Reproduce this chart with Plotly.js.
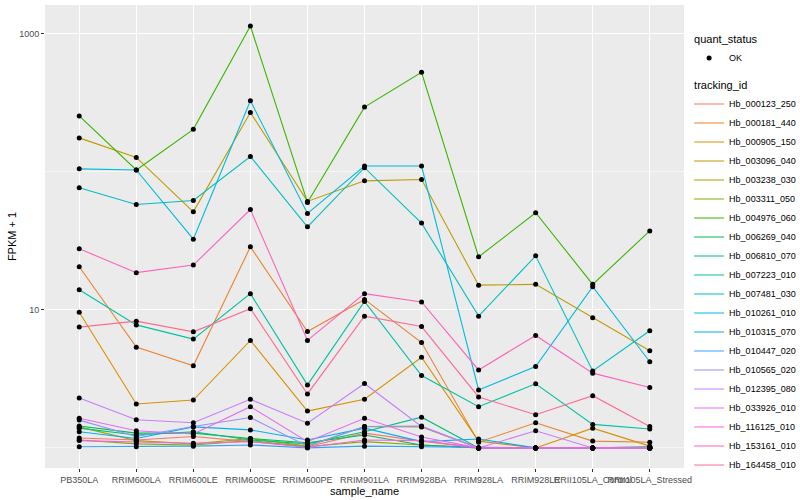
<!DOCTYPE html>
<html>
<head>
<meta charset="utf-8">
<script src="https://cdn.plot.ly/plotly-3.0.1.min.js"></script>
<style>html,body{margin:0;padding:0;background:#fff;}#chart{width:800px;height:500px;}</style>
</head>
<body>
<div id="chart"></div>
<script>
// ---- data (FPKM + 1) ----
var categories = ["PB350LA","RRIM600LA","RRIM600LE","RRIM600SE","RRIM600PE","RRIM901LA","RRIM928BA","RRIM928LA","RRIM928LE","RRII105LA_Control","RRII105LA_Stressed"];

var trackingIds = ["Hb_000123_250","Hb_000181_440","Hb_000905_150","Hb_003096_040","Hb_003238_030","Hb_003311_050","Hb_004976_060","Hb_006269_040","Hb_006810_070","Hb_007223_010","Hb_007481_030","Hb_010261_010","Hb_010315_070","Hb_010447_020","Hb_010565_020","Hb_012395_080","Hb_033926_010","Hb_116125_010","Hb_153161_010","Hb_164458_010"];

var Hb_000123_250 = [1.18,1.14,1.21,1.11,1.02,1.28,1.12,1.0,1.0,1.0,1.0];
var Hb_000181_440 = [20.5,5.37,3.93,28.6,6.96,11.9,5.8,1.1,1.52,1.12,1.1];
var Hb_000905_150 = [9.6,2.08,2.22,6.0,1.85,2.25,4.54,1.12,1.0,1.39,1.03];
var Hb_003096_040 = [176,127,51.3,269,61,86,88,15.1,15.3,8.75,5.05];
var Hb_003238_030 = [1.42,1.13,1.07,1.17,1.03,1.43,1.42,1.0,1.0,1.0,1.0];
var Hb_003311_050 = [1.14,1.07,1.05,1.13,1.02,1.11,1.05,1.0,1.0,1.0,1.0];
var Hb_004976_060 = [254,103,203,1137,60,294,525,24.2,50.5,15.3,37.3];
var Hb_006269_040 = [1.44,1.28,1.28,1.17,1.09,1.24,1.05,1.0,1.0,1.0,1.02];
var Hb_006810_070 = [1.39,1.24,1.31,1.14,1.07,1.31,1.67,1.0,1.0,1.0,1.0];
var Hb_007223_010 = [14.0,7.78,6.14,13.1,2.86,11.5,3.34,1.99,2.91,1.48,1.37];
var Hb_007481_030 = [76.6,58,62,129,39.9,107,42.5,9.0,24.6,3.61,7.05];
var Hb_010261_010 = [105,103,32.5,327,49.9,110,110,2.63,3.88,14.7,4.21];
var Hb_010315_070 = [1.31,1.17,1.42,1.35,1.14,1.39,1.11,1.16,1.0,1.0,1.0];
var Hb_010447_020 = [1.02,1.02,1.03,1.05,1.0,1.03,1.02,1.0,1.0,1.0,1.0];
var Hb_010565_020 = [1.59,1.21,1.43,1.66,1.03,1.43,1.44,1.0,1.0,1.0,1.0];
var Hb_012395_080 = [2.3,1.6,1.52,2.25,1.51,2.93,1.43,1.0,1.33,1.0,1.0];
var Hb_033926_010 = [1.64,1.33,1.26,1.99,1.11,1.64,1.2,1.0,1.0,1.0,1.0];
var Hb_116125_010 = [1.13,1.11,1.08,1.11,1.01,1.14,1.13,1.0,1.0,1.0,1.0];
var Hb_153161_010 = [27.7,18.6,21.1,53.3,6.0,13.1,11.4,3.67,6.52,3.48,2.74];
var Hb_164458_010 = [7.5,8.28,6.93,10.2,2.46,9.0,7.57,2.34,1.74,2.39,1.43];

var seriesValues = [Hb_000123_250,Hb_000181_440,Hb_000905_150,Hb_003096_040,Hb_003238_030,Hb_003311_050,Hb_004976_060,Hb_006269_040,Hb_006810_070,Hb_007223_010,Hb_007481_030,Hb_010261_010,Hb_010315_070,Hb_010447_020,Hb_010565_020,Hb_012395_080,Hb_033926_010,Hb_116125_010,Hb_153161_010,Hb_164458_010];

var colors = ["#F8766D","#EA8331","#D89000","#C09B00","#A3A500","#7CAE00","#39B600","#00BB4E","#00BF7D","#00C1A3","#00BFC4","#00BAE0","#00B0F6","#35A2FF","#9590FF","#C77CFF","#E76BF3","#FA62DB","#FF62BC","#FF6C91"];

var statusLabel = "OK";
var yTickVals = [10, 1000];
var yTickText = ["10", "1000"];
var yMinorVals = [1, 100];

// ---- traces ----
var traces = [];
var allX = [], allY = [];
for (var i = 0; i < trackingIds.length; i++) {
  traces.push({
    type: 'scatter', mode: 'lines',
    x: categories, y: seriesValues[i],
    name: trackingIds[i],
    line: {color: colors[i], width: 1.1},
    legendgroup: 'tracking_id',
    legendgrouptitle: {text: 'tracking_id', font: {size: 11, color: '#000'}},
    legendrank: 10 + i,
    hoverinfo: 'x+y+name'
  });
  for (var j = 0; j < categories.length; j++) {
    allX.push(categories[j]);
    allY.push(seriesValues[i][j]);
  }
}
traces.push({
  type: 'scatter', mode: 'markers',
  x: allX, y: allY,
  name: statusLabel,
  marker: {color: '#000', size: 5},
  legendgroup: 'quant_status',
  legendgrouptitle: {text: 'quant_status', font: {size: 11, color: '#000'}},
  legendrank: 1
});

var layout = {
  width: 800, height: 500,
  paper_bgcolor: '#FFFFFF',
  plot_bgcolor: '#EBEBEB',
  font: {family: '"Liberation Sans", Arial, sans-serif', size: 9, color: '#000'},
  margin: {l: 45, r: 116, t: 5, b: 32, autoexpand: false},
  showlegend: true,
  legend: {
    x: 1.008, xanchor: 'left', y: 0.958, yanchor: 'top',
    traceorder: 'grouped', tracegroupgap: 8,
    font: {size: 9, color: '#000'},
    bgcolor: 'rgba(0,0,0,0)'
  },
  xaxis: {
    type: 'category',
    categoryorder: 'array', categoryarray: categories,
    range: [-0.6, 10.6],
    showgrid: true, gridcolor: '#FFFFFF', gridwidth: 1.1,
    zeroline: false, showline: false,
    ticks: 'outside', ticklen: 3, tickcolor: '#333333', tickwidth: 1,
    tickangle: 0,
    tickfont: {size: 9, color: '#4D4D4D'},
    title: {text: 'sample_name', font: {size: 11, color: '#000'}, standoff: 2}
  },
  yaxis: {
    type: 'log',
    range: [-0.1455, 3.208],
    tickvals: yTickVals, ticktext: yTickText,
    showgrid: true, gridcolor: '#FFFFFF', gridwidth: 1.1,
    minor: {tickvals: yMinorVals, showgrid: true, gridcolor: '#FFFFFF', gridwidth: 0.55, ticks: ''},
    zeroline: false, showline: false,
    ticks: 'outside', ticklen: 3, tickcolor: '#333333', tickwidth: 1,
    tickfont: {size: 9, color: '#4D4D4D'},
    title: {text: 'FPKM + 1', font: {size: 11, color: '#000'}, standoff: 0}
  }
};

Plotly.newPlot('chart', traces, layout, {staticPlot: true, displayModeBar: false});
</script>
</body>
</html>
